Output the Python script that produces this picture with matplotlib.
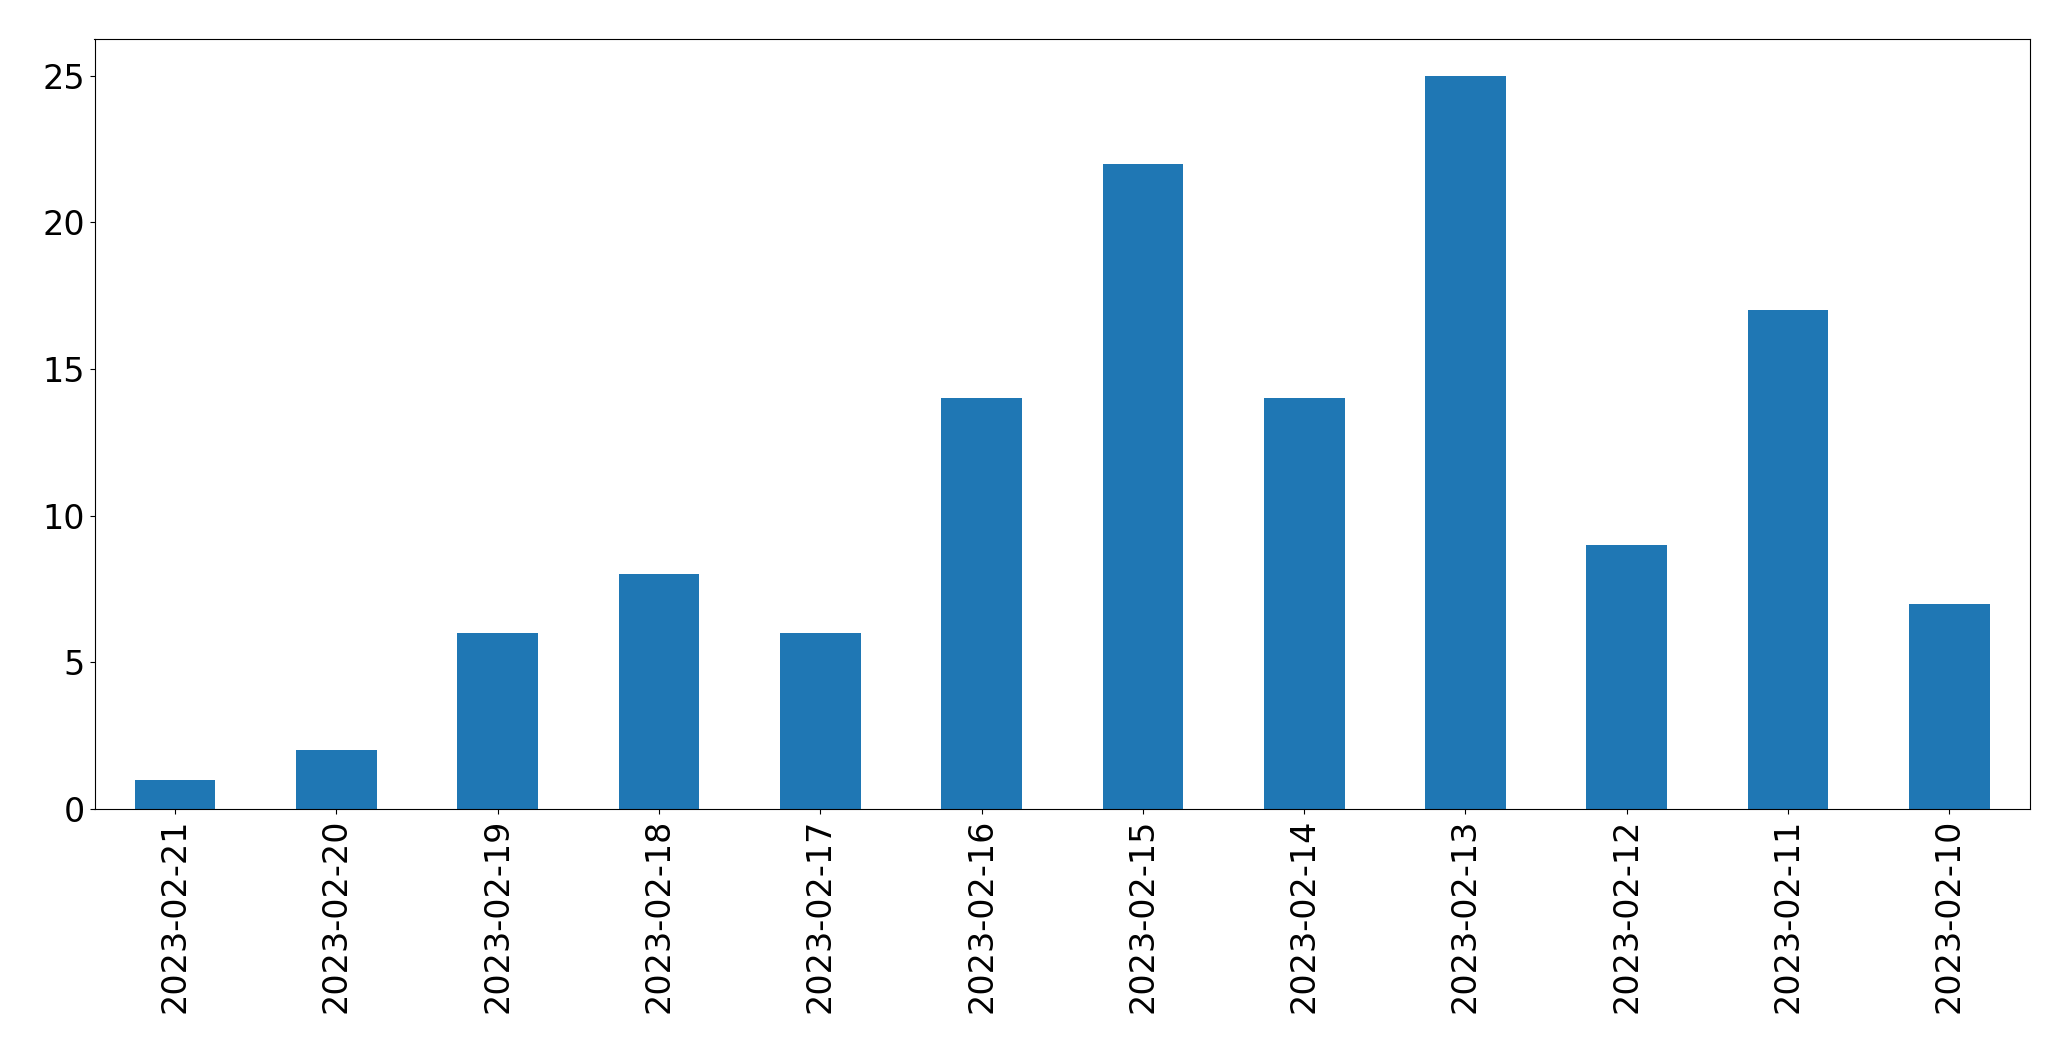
import matplotlib
matplotlib.use("Agg")
import matplotlib.pyplot as plt
import pandas as pd

dates = ["2023-02-21", "2023-02-20", "2023-02-19", "2023-02-18", "2023-02-17", "2023-02-16",
         "2023-02-15", "2023-02-14", "2023-02-13", "2023-02-12", "2023-02-11", "2023-02-10"]
counts = [1, 2, 6, 8, 6, 14, 22, 14, 25, 9, 17, 7]

fig = plt.figure(figsize=(20.71, 10.61), dpi=100)
left, right, top, bottom = 94.5 / 2071, 2030 / 2071, 1 - 39 / 1061, 1 - 809 / 1061
ax = fig.add_axes([left, bottom, right - left, top - bottom])
s = pd.Series(counts, index=dates)
s.plot(kind="bar", ax=ax, color="#1f77b4", width=0.5)
ax.tick_params(axis="both", labelsize=24)
fig.savefig("out.png", dpi=100)
